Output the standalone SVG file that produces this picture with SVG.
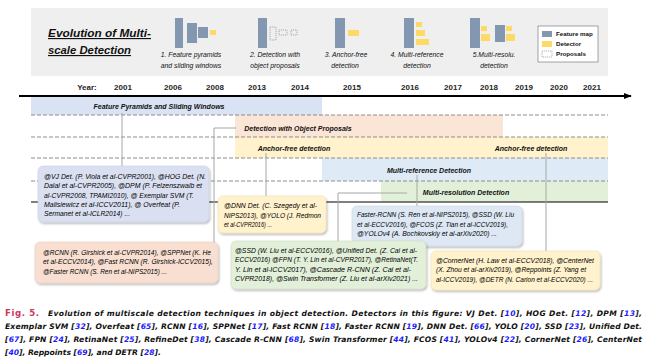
<svg xmlns="http://www.w3.org/2000/svg" width="647" height="364" viewBox="0 0 647 364">
<style>
.t{font-family:"Liberation Sans",Arial,sans-serif;font-style:italic;font-size:7.4px;fill:#000}
.bl{font-family:"Liberation Sans",Arial,sans-serif;font-style:italic;font-weight:bold;font-size:7px;fill:#111;text-anchor:middle}
.cap{font-family:"Liberation Sans",Arial,sans-serif;font-style:italic;font-size:6.8px;fill:#111;text-anchor:middle}
.yr{font-family:"Liberation Sans",Arial,sans-serif;font-weight:bold;font-size:8px;fill:#262626;text-anchor:middle}
.lg{font-family:"Liberation Sans",Arial,sans-serif;font-weight:bold;font-size:6.2px;fill:#111}
.fc{font-family:"DejaVu Sans",sans-serif;font-style:italic;font-weight:bold;font-size:7.6px;fill:#111}
.n{fill:#1a1aff}
.bar{fill:#8497b0}
.yel{fill:#ffd966}
.prop{fill:none;stroke:#7f7f7f;stroke-width:0.6;stroke-dasharray:1.2 0.8}
.dash{stroke:#8c8c8c;stroke-width:1;stroke-dasharray:4 2;fill:none}
.con{stroke:#a6a6a6;stroke-width:1;fill:none;marker-end:url(#dot)}
.box{filter:url(#sh)}
</style>
<defs>
<marker id="dot" viewBox="0 0 4 4" refX="2" refY="2" markerWidth="3" markerHeight="3" markerUnits="userSpaceOnUse"><circle cx="2" cy="2" r="2" fill="#404040"/></marker>
<marker id="arr" viewBox="0 0 10 10" refX="9" refY="5" markerWidth="4" markerHeight="4" orient="auto"><path d="M0,1 L10,5 L0,9 z" fill="#000"/></marker>
<filter id="sh" x="-10%" y="-10%" width="120%" height="130%"><feDropShadow dx="1" dy="1.5" stdDeviation="1" flood-color="#000" flood-opacity="0.3"/></filter>
</defs>

<!-- header panel -->
<g id="header">
<rect x="31" y="8" width="577" height="68" fill="#efefef"/>
<text font-family="Liberation Sans,Arial,sans-serif" font-style="italic" font-weight="bold" font-size="11.5" fill="#111" text-decoration="underline"><tspan x="48" y="37" textLength="103" lengthAdjust="spacingAndGlyphs">Evolution of Multi-</tspan><tspan x="48" y="54" textLength="83" lengthAdjust="spacingAndGlyphs">scale Detection</tspan></text>
</g>

<g id="icon1">
<rect class="bar" x="175" y="18" width="8" height="30"/>
<rect class="bar" x="187" y="23" width="10" height="20"/>
<rect class="bar" x="198" y="27" width="10" height="11"/>
<rect class="yel" x="210" y="30" width="6" height="5"/>
<text class="cap" x="191" y="57">1. Feature pyramids</text>
<text class="cap" x="191" y="68">and sliding windows</text>
</g>
<g id="icon2">
<rect class="bar" x="258" y="18" width="9" height="30"/>
<rect class="prop" x="270" y="27" width="6" height="13"/>
<rect class="prop" x="279" y="30" width="8" height="5"/>
<rect class="prop" x="291" y="30" width="6" height="5"/>
<text class="cap" x="275" y="57">2. Detection with</text>
<text class="cap" x="275" y="68">object proposals</text>
</g>
<g id="icon3">
<rect class="bar" x="335" y="18" width="10" height="30"/>
<rect class="yel" x="348" y="30" width="11" height="6"/>
<text class="cap" x="346" y="57">3. Anchor-free</text>
<text class="cap" x="345" y="68">detection</text>
</g>
<g id="icon4">
<rect class="bar" x="404" y="18" width="10" height="30"/>
<rect class="yel" x="416" y="22" width="6" height="5"/>
<rect class="yel" x="416" y="30" width="9" height="6"/>
<rect class="yel" x="416" y="39" width="13" height="6"/>
<text class="cap" x="417" y="57">4. Multi-reference</text>
<text class="cap" x="417" y="68">detection</text>
</g>
<g id="icon5">
<rect class="bar" x="470" y="18" width="10" height="30"/>
<rect class="yel" x="481" y="26" width="6" height="5"/>
<rect class="yel" x="481" y="34" width="9" height="7"/>
<rect class="bar" x="495" y="25" width="10" height="17"/>
<rect class="yel" x="506" y="26" width="6" height="5"/>
<rect class="yel" x="506" y="34" width="9" height="7"/>
<text class="cap" x="494" y="57">5.Multi-resolu.</text>
<text class="cap" x="494" y="68">detection</text>
</g>
<g id="legend">
<rect x="538" y="26" width="60" height="36" fill="#fff" stroke="#7f7f7f" stroke-width="0.7"/>
<rect class="bar" x="542" y="31" width="10" height="6"/>
<rect class="yel" x="542" y="41" width="10" height="6"/>
<rect class="prop" x="542" y="51" width="10" height="6"/>
<text class="lg" x="556" y="36">Feature map</text>
<text class="lg" x="556" y="46">Detector</text>
<text class="lg" x="556" y="56">Proposals</text>
</g>

<!-- years -->
<g id="years">
<text class="yr" x="87" y="90">Year:</text>
<text class="yr" x="123" y="90">2001</text>
<text class="yr" x="173" y="90">2006</text>
<text class="yr" x="215" y="90">2008</text>
<text class="yr" x="257" y="90">2013</text>
<text class="yr" x="300" y="90">2014</text>
<text class="yr" x="352" y="90">2015</text>
<text class="yr" x="410" y="90">2016</text>
<text class="yr" x="453" y="90">2017</text>
<text class="yr" x="489" y="90">2018</text>
<text class="yr" x="524" y="90">2019</text>
<text class="yr" x="559" y="90">2020</text>
<text class="yr" x="592" y="90">2021</text>
</g>

<!-- bands -->
<g id="bands">
<rect x="31" y="97" width="291" height="18" fill="#dae3f3"/>
<rect x="235" y="115" width="268" height="22" fill="#fbe5d6"/>
<rect x="235" y="137" width="373" height="21" fill="#fff2cc"/>
<rect x="322" y="158" width="286" height="23" fill="#deebf7"/>
<rect x="381" y="181" width="227" height="21" fill="#e2f0d9"/>
<line class="dash" x1="31" y1="115" x2="608" y2="115"/>
<line class="dash" x1="31" y1="137" x2="608" y2="137"/>
<line class="dash" x1="31" y1="158" x2="608" y2="158"/>
<line class="dash" x1="31" y1="181" x2="608" y2="181"/>
<line x1="31" y1="202" x2="608" y2="202" stroke="#000" stroke-width="1.2"/>
<text class="bl" x="159" y="108.5">Feature Pyramids and Sliding Windows</text>
<text class="bl" x="298" y="130.5">Detection with Object Proposals</text>
<text class="bl" x="294" y="150.5">Anchor-free detection</text>
<text class="bl" x="531" y="150.5">Anchor-free detection</text>
<text class="bl" x="429" y="172.5">Multi-reference Detection</text>
<text class="bl" x="466" y="195">Multi-resolution Detection</text>
</g>

<line id="timeline" x1="19" y1="96" x2="631" y2="96" stroke="#000" stroke-width="2" marker-end="url(#arr)"/>

<!-- connectors -->
<g id="connectors">
<path class="con" d="M122,113 V167"/>
<path class="con" d="M236,128 H214 V246"/>
<path class="con" d="M266,153 V197"/>
<path class="con" d="M417,175 V207"/>
<path class="con" d="M407,193 H338 V242"/>
<path class="con" d="M546,153 V252"/>
</g>

<!-- nodes -->
<g id="node-vj">
<rect class="box" x="38" y="166" width="171" height="56" rx="5" fill="#dae0f1" stroke="#c4cde4" stroke-width="0.5"/>
<text class="t"><tspan x="44" y="179" textLength="162" lengthAdjust="spacingAndGlyphs">@VJ Det. (P. Viola et al-CVPR2001), @HOG Det. (N.</tspan><tspan x="44" y="188.3" textLength="158" lengthAdjust="spacingAndGlyphs">Dalal et al-CVPR2005), @DPM (P. Felzenszwalb et</tspan><tspan x="44" y="197.6" textLength="150" lengthAdjust="spacingAndGlyphs">al-CVPR2008, TPAMI2010), @ Exemplar SVM (T.</tspan><tspan x="44" y="206.9" textLength="136" lengthAdjust="spacingAndGlyphs">Malisiewicz et al-ICCV2011), @ Overfeat (P.</tspan><tspan x="44" y="216.2" textLength="86" lengthAdjust="spacingAndGlyphs">Sermanet et al-ICLR2014) ...</tspan></text>
</g>
<g id="node-dnn">
<rect class="box" x="218" y="196" width="108" height="37" rx="5" fill="#fff2cc" stroke="#ecdca8" stroke-width="0.5"/>
<text class="t"><tspan x="224" y="208" textLength="93" lengthAdjust="spacingAndGlyphs">@DNN Det. (C. Szegedy et al-</tspan><tspan x="224" y="217.5" textLength="97" lengthAdjust="spacingAndGlyphs">NIPS2013), @YOLO (J. Redmon</tspan><tspan x="224" y="227" textLength="48" lengthAdjust="spacingAndGlyphs">et al-CVPR2016) ...</tspan></text>
</g>
<g id="node-rcnn">
<rect class="box" x="35" y="242" width="183" height="41" rx="5" fill="#f9dfd2" stroke="#e8c9b8" stroke-width="0.5"/>
<text class="t"><tspan x="43" y="254.5" textLength="168" lengthAdjust="spacingAndGlyphs">@RCNN (R. Girshick et al-CVPR2014), @SPPNet (K. He</tspan><tspan x="43" y="264" textLength="170" lengthAdjust="spacingAndGlyphs">et al-ECCV2014), @Fast RCNN (R. Girshick-ICCV2015),</tspan><tspan x="43" y="273.5" textLength="124" lengthAdjust="spacingAndGlyphs">@Faster RCNN (S. Ren et al-NIPS2015) ...</tspan></text>
</g>
<g id="node-fasterrcnn">
<rect class="box" x="352" y="206" width="170" height="40" rx="5" fill="#dde8f4" stroke="#c5d3e4" stroke-width="0.5"/>
<text class="t"><tspan x="357" y="217" textLength="157" lengthAdjust="spacingAndGlyphs">Faster-RCNN (S. Ren et al-NIPS2015), @SSD (W. Liu</tspan><tspan x="357" y="226.5" textLength="151" lengthAdjust="spacingAndGlyphs">et al-ECCV2016), @FCOS (Z. Tian et al-ICCV2019),</tspan><tspan x="357" y="236" textLength="140" lengthAdjust="spacingAndGlyphs">@YOLOv4 (A. Bochkovskiy et al-arXiv2020) ...</tspan></text>
</g>
<g id="node-ssd">
<rect class="box" x="231" y="241" width="195" height="48" rx="5" fill="#e2efd9" stroke="#c9dbbd" stroke-width="0.5"/>
<text class="t"><tspan x="235" y="252.5" textLength="182" lengthAdjust="spacingAndGlyphs">@SSD (W. Liu et al-ECCV2016), @Unified Det. (Z. Cai et al-</tspan><tspan x="235" y="262" textLength="183" lengthAdjust="spacingAndGlyphs">ECCV2016) @FPN (T. Y. Lin et al-CVPR2017), @RetinaNet(T.</tspan><tspan x="235" y="271.5" textLength="176" lengthAdjust="spacingAndGlyphs">Y. Lin et al-ICCV2017), @Cascade R-CNN (Z. Cai et al-</tspan><tspan x="235" y="281" textLength="183" lengthAdjust="spacingAndGlyphs">CVPR2018), @Swin Transformer (Z. Liu et al-arXiv2021) ...</tspan></text>
</g>
<g id="node-cornernet">
<rect class="box" x="431" y="251" width="169" height="39" rx="5" fill="#fff2cc" stroke="#ecdca8" stroke-width="0.5"/>
<text class="t"><tspan x="436" y="262.5" textLength="158" lengthAdjust="spacingAndGlyphs">@CornerNet (H. Law et al-ECCV2018), @CenterNet</tspan><tspan x="436" y="272" textLength="150" lengthAdjust="spacingAndGlyphs">(X. Zhou et al-arXiv2019), @Reppoints (Z. Yang et</tspan><tspan x="436" y="281.5" textLength="157" lengthAdjust="spacingAndGlyphs">al-ICCV2019), @DETR (N. Carion et al-ECCV2020) ...</tspan></text>
</g>

<!-- caption -->
<g id="caption">
<text x="5" y="316" font-family="DejaVu Sans,sans-serif" font-weight="bold" font-size="8.6" fill="#c8385e" textLength="34" lengthAdjust="spacing">Fig. 5.</text>
<text class="fc" x="48" y="316" textLength="594" lengthAdjust="spacing">Evolution of multiscale detection techniques in object detection. Detectors in this figure: VJ Det. [<tspan class="n">10</tspan>], HOG Det. [<tspan class="n">12</tspan>], DPM [<tspan class="n">13</tspan>],</text>
<text class="fc" x="5" y="329" textLength="637" lengthAdjust="spacing">Exemplar SVM [<tspan class="n">32</tspan>], Overfeat [<tspan class="n">65</tspan>], RCNN [<tspan class="n">16</tspan>], SPPNet [<tspan class="n">17</tspan>], Fast RCNN [<tspan class="n">18</tspan>], Faster RCNN [<tspan class="n">19</tspan>], DNN Det. [<tspan class="n">66</tspan>], YOLO [<tspan class="n">20</tspan>], SSD [<tspan class="n">23</tspan>], Unified Det.</text>
<text class="fc" x="5" y="342" textLength="637" lengthAdjust="spacing">[<tspan class="n">67</tspan>], FPN [<tspan class="n">24</tspan>], RetinaNet [<tspan class="n">25</tspan>], RefineDet [<tspan class="n">38</tspan>], Cascade R-CNN [<tspan class="n">68</tspan>], Swin Transformer [<tspan class="n">44</tspan>], FCOS [<tspan class="n">41</tspan>], YOLOv4 [<tspan class="n">22</tspan>], CornerNet [<tspan class="n">26</tspan>], CenterNet</text>
<text class="fc" x="5" y="355">[<tspan class="n">40</tspan>], Reppoints [<tspan class="n">69</tspan>], and DETR [<tspan class="n">28</tspan>].</text>
</g>
</svg>
